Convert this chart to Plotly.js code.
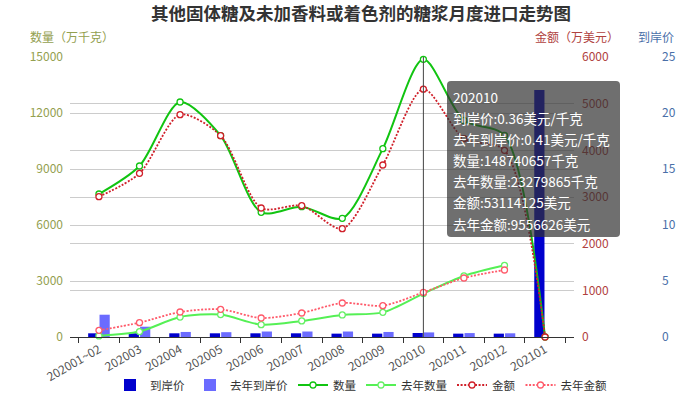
<!DOCTYPE html>
<html>
<head>
<meta charset="utf-8">
<script src="https://cdn.plot.ly/plotly-3.0.1.min.js"></script>
<style>html,body{margin:0;padding:0;background:#fff;}#chart{width:682px;height:394px;}</style>
</head>
<body>
<div id="chart"></div>
<script>
// ---- data ----
const months = ['202001~02','202003','202004','202005','202006','202007','202008','202009','202010','202011','202012','202101'];
const price      = [0.33, 0.33, 0.33, 0.33, 0.33, 0.33, 0.30, 0.30, 0.36, 0.30, 0.30, 22.05];   // 到岸价 (美元/千克)
const priceLast  = [1.99, 0.92, 0.45, 0.43, 0.49, 0.49, 0.49, 0.45, 0.41, 0.35, 0.33, null]; // 去年到岸价
const qty        = [7660, 9160, 12590, 10790, 6680, 6980, 6360, 10090, 14874, 11600, 10800, 0]; // 数量 (万千克)
const qtyLast    = [60, 290, 1070, 1200, 660, 860, 1180, 1320, 2328, 3270, 3840, null];        // 去年数量
const amt        = [3007, 3507, 4764, 4314, 2764, 2814, 2321, 3686, 5311, 4250, 4000, 0];      // 金额 (万美元)
const amtLast    = [143, 307, 536, 593, 407, 514, 729, 671, 956, 1264, 1436, null];            // 去年金额
const hoverMonth = '202010';
const tipLines = ['202010','到岸价:0.36美元/千克','去年到岸价:0.41美元/千克','数量:148740657千克','去年数量:23279865千克','金额:53114125美元','去年金额:9556626美元'];

const FONT = '"Noto Sans CJK SC", "Noto Sans", sans-serif';
const W = 682, H = 394, ML = 70, MR = 30, MT = 57, MB = 57;
const PW = W - ML - MR, PH = H - MT - MB;
const px = x => (x - ML) / PW;
const py = y => (MT + PH - y) / PH;

const mk = (c) => ({symbol:'circle', size:6, color:'#fff', line:{color:c, width:1.3}});
const DOTS = '2px,1.6px';

const traces = [
  {type:'bar', name:'到岸价', x:months, y:price, yaxis:'y', marker:{color:'#0000CD'}},
  {type:'bar', name:'去年到岸价', x:months, y:priceLast, yaxis:'y', marker:{color:'#6B6BFF'}},
  {type:'scatter', mode:'lines+markers', name:'数量', x:months, y:qty, yaxis:'y2',
   line:{color:'#11C411', width:2, shape:'spline', smoothing:0.8}, marker:mk('#11C411'), cliponaxis:false},
  {type:'scatter', mode:'lines+markers', name:'去年数量', x:months, y:qtyLast, yaxis:'y2',
   line:{color:'#55F055', width:2, shape:'spline', smoothing:0.8}, marker:mk('#66F066'), cliponaxis:false},
  {type:'scatter', mode:'lines+markers', name:'金额', x:months, y:amt, yaxis:'y3',
   line:{color:'#D0202A', width:1.8, dash:DOTS, shape:'spline', smoothing:0.8}, marker:mk('#D0202A'), cliponaxis:false},
  {type:'scatter', mode:'lines+markers', name:'去年金额', x:months, y:amtLast, yaxis:'y3',
   line:{color:'#FF5A6A', width:1.8, dash:DOTS, shape:'spline', smoothing:0.8}, marker:mk('#FF5A6A'), cliponaxis:false}
];

const rx = 4 / PW, ry = 4 / PH;
const bx0 = px(447), bx1 = px(620), by0 = py(81), by1 = py(237);
const roundRect = `M ${bx0+rx} ${by0} L ${bx1-rx} ${by0} Q ${bx1} ${by0} ${bx1} ${by0-ry} L ${bx1} ${by1+ry} Q ${bx1} ${by1} ${bx1-rx} ${by1} L ${bx0+rx} ${by1} Q ${bx0} ${by1} ${bx0} ${by1+ry} L ${bx0} ${by0-ry} Q ${bx0} ${by0} ${bx0+rx} ${by0} Z`;

const annotations = [
  {text:'数量（万千克）', xref:'paper', yref:'paper', x:px(28), y:py(36), xanchor:'left', yanchor:'middle', showarrow:false, font:{family:FONT, size:12, color:'#93A04F'}},
  {text:'金额（万美元）', xref:'paper', yref:'paper', x:px(533), y:py(36), xanchor:'left', yanchor:'middle', showarrow:false, font:{family:FONT, size:12, color:'#B0413E'}},
  {text:'到岸价', xref:'paper', yref:'paper', x:px(636), y:py(36), xanchor:'left', yanchor:'middle', showarrow:false, font:{family:FONT, size:12, color:'#4A6FA8'}}
];
tipLines.forEach((t, i) => {
  annotations.push({text:t, xref:'paper', yref:'paper', x:px(451), y:py(96.5 + 21.2*i), xanchor:'left', yanchor:'middle',
    showarrow:false, font:{family:FONT, size:13.5, color:'#fff'}});
});

const layout = {
  width:W, height:H,
  margin:{l:ML, r:MR, t:MT, b:MB},
  paper_bgcolor:'#fff', plot_bgcolor:'#fff',
  font:{family:FONT, size:12, color:'#333'},
  title:{text:'<b>其他固体糖及未加香料或着色剂的糖浆月度进口走势图</b>', font:{family:FONT, size:17.5, color:'#333'},
         x:0.5, xref:'paper', xanchor:'center', y:1 - 14/H, yref:'container', yanchor:'middle'},
  showlegend:true,
  legend:{orientation:'h', x:0.5, xanchor:'center', xref:'paper', y:1 - 385/H, yref:'container', yanchor:'middle',
          font:{family:FONT, size:11.5, color:'#333'}, itemwidth:30, tracegroupgap:0},
  barmode:'group', bargap:0.44, bargroupgap:0.1,
  xaxis:{domain:[0, 504/PW], type:'category', anchor:'y', showgrid:false, showline:true, linecolor:'#333', linewidth:1,
         ticks:'outside', tickson:'boundaries', ticklen:5, tickcolor:'#333', tickangle:-30,
         tickfont:{family:FONT, size:12, color:'#555'}, zeroline:false},
  yaxis:{range:[0,25], dtick:5, side:'right', anchor:'free', position:1, showgrid:false, zeroline:false, showline:false,
         ticks:'', ticklabelstandoff:9, tickformat:'d', tickfont:{family:FONT, size:12, color:'#4A6FA8'}},
  yaxis2:{range:[0,15000], dtick:3000, overlaying:'y', side:'left', anchor:'x', showgrid:true, gridcolor:'#cccccc', zeroline:false,
         showline:false, ticks:'', ticklabelstandoff:6, tickformat:'d', tickfont:{family:FONT, size:12, color:'#93A04F'}},
  yaxis3:{range:[0,6000], dtick:1000, overlaying:'y', side:'right', anchor:'x', showgrid:true, gridcolor:'#cccccc', zeroline:false,
         showline:false, ticks:'', ticklabelstandoff:7, tickformat:'d', tickfont:{family:FONT, size:12, color:'#B0413E'}},
  shapes:[
    {type:'line', xref:'x', yref:'paper', x0:months.indexOf(hoverMonth), x1:months.indexOf(hoverMonth), y0:0, y1:1, line:{color:'#444', width:1}, layer:'above'},
    {type:'path', xref:'paper', yref:'paper', path:roundRect, fillcolor:'rgba(50,50,50,0.7)', line:{width:0}, layer:'above'}
  ],
  annotations:annotations
};

Plotly.newPlot('chart', traces, layout, {displayModeBar:false, staticPlot:true});
</script>
</body>
</html>
